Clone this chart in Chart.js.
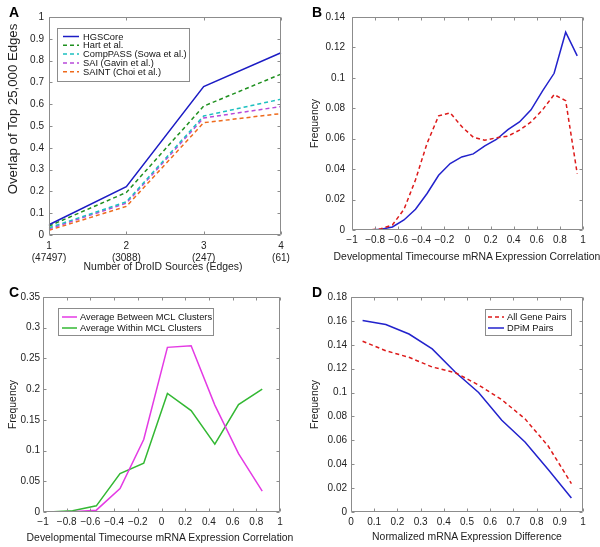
<!DOCTYPE html>
<html><head><meta charset="utf-8">
<script src="https://cdn.jsdelivr.net/npm/chart.js@4/dist/chart.umd.min.js"></script>
<style>
html,body{margin:0;padding:0;background:#fff}
body{width:600px;height:547px;position:relative;overflow:hidden;font-family:"Liberation Sans",Arial,sans-serif}
.p{position:absolute}
.lbl{position:absolute;font:bold 14px/14px "Liberation Sans",Arial,sans-serif;color:#000}
.xt{position:absolute;width:300px;text-align:center;font:10.4px/12px "Liberation Sans",Arial,sans-serif;color:#222;white-space:nowrap}
.yt{position:absolute;width:220px;height:16px;text-align:center;font:13.2px/16px "Liberation Sans",Arial,sans-serif;color:#222;white-space:nowrap;transform:rotate(-90deg);transform-origin:50% 50%}
</style></head><body>
<div class="p" style="left:0;top:0;width:300px;height:280px"><canvas id="cA"></canvas></div>
<div class="p" style="left:300px;top:0;width:300px;height:280px"><canvas id="cB"></canvas></div>
<div class="p" style="left:0;top:280px;width:300px;height:267px"><canvas id="cC"></canvas></div>
<div class="p" style="left:300px;top:280px;width:300px;height:267px"><canvas id="cD"></canvas></div>
<div class="lbl" style="left:9px;top:5px">A</div>
<div class="lbl" style="left:312px;top:5px">B</div>
<div class="lbl" style="left:9px;top:285px">C</div>
<div class="lbl" style="left:312px;top:285px">D</div>
<div class="xt" style="left:13px;top:261px">Number of DroID Sources (Edges)</div>
<div class="yt" style="left:-97.5px;top:101px">Overlap of Top 25,000 Edges</div>
<div class="xt" style="left:317px;top:251px">Developmental Timecourse mRNA Expression Correlation</div>
<div class="xt" style="left:10px;top:532px">Developmental Timecourse mRNA Expression Correlation</div>
<div class="xt" style="left:317px;top:531px">Normalized mRNA Expression Difference</div>
<script>
// ---------- Panel A data ----------
const droidSources = ["1","2","3","4"];
const droidEdges = ["(47497)","(3088)","(247)","(61)"];
const hgscore  = [0.047, 0.222, 0.681, 0.836];
const hartEtAl = [0.041, 0.195, 0.591, 0.738];
const compPASS = [0.033, 0.152, 0.546, 0.623];
const saiGavin = [0.028, 0.146, 0.537, 0.589];
const saintChoi= [0.022, 0.131, 0.515, 0.557];

// ---------- Panel B data ----------
const corrBinsB = [-0.95,-0.85,-0.75,-0.65,-0.55,-0.45,-0.35,-0.25,-0.15,-0.05,0.05,0.15,0.25,0.35,0.45,0.55,0.65,0.75,0.85,0.95];
const allPairsB = [0,0,0.0008,0.0033,0.0136,0.033,0.057,0.075,0.077,0.068,0.061,0.059,0.0606,0.0617,0.0656,0.071,0.079,0.089,0.085,0.037];
const dpimPairsB= [0,0,0.0005,0.002,0.0066,0.0136,0.024,0.036,0.0437,0.048,0.050,0.0553,0.0595,0.066,0.071,0.079,0.0915,0.103,0.130,0.1145];

// ---------- Panel C data ----------
const corrBinsC = [-0.95,-0.75,-0.55,-0.35,-0.15,0.05,0.25,0.45,0.65,0.85];
const betweenMCL = [0,0.0005,0.003,0.038,0.118,0.268,0.2705,0.174,0.095,0.034];
const withinMCL  = [0,0.002,0.010,0.0626,0.0795,0.193,0.165,0.1105,0.175,0.200];

// ---------- Panel D data ----------
const diffBinsD = [0.05,0.15,0.25,0.35,0.45,0.55,0.65,0.75,0.85,0.95];
const allPairsD = [0.143,0.135,0.1295,0.1214,0.1166,0.1063,0.094,0.078,0.0552,0.0238];
const dpimPairsD= [0.1604,0.157,0.149,0.1365,0.117,0.100,0.0768,0.0586,0.0356,0.0118];

const FONT = '"Liberation Sans", Arial, sans-serif';
const TXT = '#222';
const BOXC = '#8c8c8c';

function pts(xs, ys){ return xs.map((x,i)=>({x:x, y:ys[i]})); }
function fmt(v){ const r = Math.round(v*1000)/1000; return (r<0?'\u2212':'') + String(Math.abs(r)); }

const boxPlugin = {
  id:'boxPlugin',
  afterDatasetsDraw(chart, args, o){
    const ctx = chart.ctx, a = chart.chartArea;
    const xs = chart.scales.x, ys = chart.scales.y;
    ctx.save();
    ctx.strokeStyle = BOXC; ctx.lineWidth = 1;
    const L=Math.round(a.left)+0.5, R=Math.round(a.right)-0.5, T=Math.round(a.top)+0.5, B=Math.round(a.bottom)-0.5;
    ctx.beginPath(); ctx.rect(L,T,R-L,B-T); ctx.stroke();
    ctx.beginPath();
    const tl = 3;
    xs.ticks.forEach((t,i)=>{ const p=Math.round(xs.getPixelForTick(i))+0.5; ctx.moveTo(p,B); ctx.lineTo(p,B-tl); ctx.moveTo(p,T); ctx.lineTo(p,T+tl); });
    ys.ticks.forEach((t,i)=>{ const p=Math.round(ys.getPixelForTick(i))+0.5; ctx.moveTo(L,p); ctx.lineTo(L+tl,p); ctx.moveTo(R,p); ctx.lineTo(R-tl,p); });
    ctx.stroke();
    const lg = o.legend;
    if (lg){
      ctx.fillStyle='#fff'; ctx.fillRect(lg.x, lg.y, lg.w, lg.h);
      ctx.strokeStyle=BOXC; ctx.lineWidth=1; ctx.strokeRect(lg.x+0.5, lg.y+0.5, lg.w, lg.h);
      ctx.font = lg.fontSize + 'px ' + FONT;
      ctx.textBaseline='middle'; ctx.textAlign='left';
      chart.data.datasets.forEach((d,i)=>{
        const yy = lg.y0 + i*lg.rowH;
        ctx.strokeStyle = d.borderColor; ctx.lineWidth = d.borderWidth;
        ctx.setLineDash(d.borderDash || []);
        ctx.beginPath(); ctx.moveTo(lg.l0, yy); ctx.lineTo(lg.l1, yy); ctx.stroke();
        ctx.setLineDash([]);
        ctx.fillStyle = '#111';
        ctx.fillText(d.label, lg.tx, yy+0.5);
      });
    }
    ctx.restore();
  }
};

function ds(label, data, color, dash){
  return {label, data, borderColor: color, backgroundColor: color, borderWidth: 1.5,
    borderDash: dash ? [4,3] : [], pointRadius: 0, tension: 0, fill: false};
}

function makeChart(id, cfg){
  const isCat = cfg.xType === 'category';
  const xTicks = { color: TXT, font: { family: FONT, size: 10 }, padding: cfg.xPad, maxRotation: 0, autoSkip: false,
                   callback: isCat ? function(v, i){ return [droidSources[i], droidEdges[i]]; } : function(v){ return fmt(v); } };
  const xScale = {
    type: cfg.xType,
    grid: { display: false, drawTicks: false },
    border: { display: false },
    ticks: xTicks,
    title: { display: false },
    afterFit(s){ s.height = cfg.xHeight; }
  };
  if (isCat) { xScale.offset = false; }
  else { xScale.min = cfg.xMin; xScale.max = cfg.xMax; xTicks.stepSize = cfg.xStep; }
  return new Chart(document.getElementById(id), {
    type: 'line',
    data: { labels: cfg.labels, datasets: cfg.datasets },
    plugins: [boxPlugin],
    options: {
      responsive: true, maintainAspectRatio: false, animation: false,
      devicePixelRatio: 1,
      layout: { padding: { left: 0, top: 17, right: cfg.padRight, bottom: 0 } },
      plugins: { legend: { display: false }, tooltip: { enabled: false }, boxPlugin: { legend: cfg.legend } },
      scales: {
        x: xScale,
        y: {
          min: 0, max: cfg.yMax,
          grid: { display: false, drawTicks: false },
          border: { display: false },
          ticks: { stepSize: cfg.yStep, color: TXT, font: { family: FONT, size: 10 }, padding: cfg.yPad, callback: v => fmt(v) },
          title: { display: !!cfg.yTitle, text: cfg.yTitle || '', color: TXT, font: { family: FONT, size: 10.4 }, padding: { top: cfg.yTitlePad || 0, bottom: 0 } },
          afterFit(s){ s.width = cfg.yWidth; }
        }
      }
    }
  });
}

// Panel A
makeChart('cA', {
  labels: droidSources,
  datasets: [
    ds('HGSCore', hgscore, '#1c1cc4', false),
    ds('Hart et al.', hartEtAl, '#1f901f', true),
    ds('CompPASS (Sowa et al.)', compPASS, '#1cc0c0', true),
    ds('SAI (Gavin et al.)', saiGavin, '#b84ada', true),
    ds('SAINT (Choi et al.)', saintChoi, '#ee6a1c', true)
  ],
  xType: 'category', yMax: 1, yStep: 0.1,
  padRight: 19, yWidth: 49, xHeight: 45, yPad: 5, xPad: 5,
  legend: { x: 57, y: 28, w: 132, h: 53, y0: 36.5, rowH: 8.8, l0: 63, l1: 79, tx: 83, fontSize: 9.3 }
});

// Panel B
makeChart('cB', {
  xType: 'linear',
  datasets: [
    ds('All Gene Pairs', pts(corrBinsB, allPairsB), '#dd1a1a', true),
    ds('DPiM Pairs', pts(corrBinsB, dpimPairsB), '#2222cc', false)
  ],
  xMin: -1, xMax: 1, xStep: 0.2, yMax: 0.14, yStep: 0.02,
  yTitle: 'Frequency',
  padRight: 17, yWidth: 52, xHeight: 50, yPad: 7, xPad: 4, yTitlePad: 9,
  legend: { x: 361, y: 28, w: 86, h: 25, y0: 36, rowH: 11, l0: 364, l1: 380, tx: 383, fontSize: 9.3 }
});

// Panel C
makeChart('cC', {
  xType: 'linear',
  datasets: [
    ds('Average Between MCL Clusters', pts(corrBinsC, betweenMCL), '#e43ae4', false),
    ds('Average Within MCL Clusters', pts(corrBinsC, withinMCL), '#33b833', false)
  ],
  xMin: -1, xMax: 1, xStep: 0.2, yMax: 0.35, yStep: 0.05,
  yTitle: 'Frequency',
  padRight: 20, yWidth: 43, xHeight: 35, yPad: 3, xPad: 4, yTitlePad: 7,
  legend: { x: 58, y: 28, w: 155, h: 27, y0: 37, rowH: 11, l0: 62, l1: 77, tx: 80, fontSize: 9.3 }
});

// Panel D
makeChart('cD', {
  xType: 'linear',
  datasets: [
    ds('All Gene Pairs', pts(diffBinsD, allPairsD), '#dd1a1a', true),
    ds('DPiM Pairs', pts(diffBinsD, dpimPairsD), '#2222cc', false)
  ],
  xMin: 0, xMax: 1, xStep: 0.1, yMax: 0.18, yStep: 0.02,
  yTitle: 'Frequency',
  padRight: 17, yWidth: 51, xHeight: 35, yPad: 4, xPad: 4, yTitlePad: 9,
  legend: { x: 185, y: 29, w: 86, h: 26, y0: 37, rowH: 11, l0: 188, l1: 204, tx: 207, fontSize: 9.3 }
});
</script>
</body></html>
